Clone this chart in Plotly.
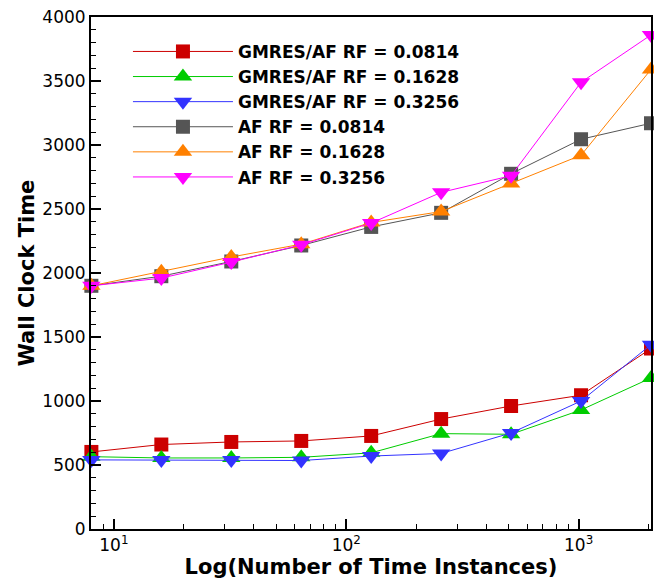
import plotly.graph_objects as go
import numpy as np

x_vals = [8, 16, 32, 64, 128, 256, 512, 1024, 2048]

gmres_0814 = [602, 660, 680, 688, 727, 859, 961, 1045, 1410]
gmres_1628 = [565, 555, 555, 560, 595, 745, 740, 930, 1180]
gmres_3256 = [540, 540, 540, 535, 570, 590, 750, 1000, 1440]
af_0814 = [1900, 1975, 2090, 2215, 2360, 2470, 2775, 3045, 3170]
af_1628 = [1900, 2010, 2125, 2225, 2395, 2480, 2700, 2920, 3590]
af_3256 = [1900, 1960, 2085, 2220, 2390, 2630, 2760, 3490, 3860]

series = [
    ("GMRES/AF RF = 0.0814", gmres_0814, "#cc0000", "square", 14),
    ("GMRES/AF RF = 0.1628", gmres_1628, "#00cc00", "triangle-up", 16),
    ("GMRES/AF RF = 0.3256", gmres_3256, "#3333ff", "triangle-down", 16),
    ("AF RF = 0.0814", af_0814, "#555555", "square", 14),
    ("AF RF = 0.1628", af_1628, "#ff8000", "triangle-up", 16),
    ("AF RF = 0.3256", af_3256, "#ff00ff", "triangle-down", 16),
]

xtick_vals = [10, 100, 1000]
xtick_text = ["10<sup>1</sup>", "10<sup>2</sup>", "10<sup>3</sup>"]
xminor_vals = [9, 20, 30, 40, 50, 60, 70, 80, 90,
               200, 300, 400, 500, 600, 700, 800, 900, 2000]
ytick_vals = [0, 500, 1000, 1500, 2000, 2500, 3000, 3500, 4000]

fig = go.Figure()
for name, ys, color, sym, sz in series:
    fig.add_trace(go.Scatter(
        x=x_vals, y=ys, name=name, mode="lines+markers",
        line=dict(color=color, width=1),
        marker=dict(symbol=sym, size=sz, color=color, line=dict(width=0)),
        cliponaxis=False,
    ))

font_family = "DejaVu Sans, Liberation Sans, Arial, sans-serif"

fig.update_layout(
    width=654, height=579,
    margin=dict(l=91, r=1, t=17, b=50),
    plot_bgcolor="white", paper_bgcolor="white",
    font=dict(family=font_family, color="black"),
    showlegend=True,
    legend=dict(
        x=0.066, y=0.967, xanchor="left", yanchor="top",
        bgcolor="rgba(0,0,0,0)", borderwidth=0,
        font=dict(size=17, family=font_family, color="black", weight="bold"),
        itemwidth=100, tracegroupgap=0,
    ),
)

fig.update_xaxes(
    type="log", range=[np.log10(7.97), np.log10(2048)],
    tickvals=xtick_vals, ticktext=xtick_text,
    ticks="inside", ticklen=10, tickwidth=1.5, tickcolor="black",
    minor=dict(ticks="inside", ticklen=5, tickwidth=1, tickcolor="black",
               tickvals=xminor_vals, showgrid=False),
    showline=True, linecolor="black", linewidth=2, mirror=True,
    showgrid=False, zeroline=False,
    tickfont=dict(size=17, family=font_family, color="black"),
    title=dict(text="Log(Number of Time Instances)", standoff=6,
               font=dict(size=21, family=font_family, color="black", weight="bold")),
)
fig.update_yaxes(
    range=[0, 4000], tickvals=ytick_vals,
    ticks="inside", ticklen=10, tickwidth=1.5, tickcolor="black",
    minor=dict(ticks="inside", ticklen=5, tickwidth=1, tickcolor="black", dtick=100, showgrid=False),
    showline=True, linecolor="black", linewidth=2, mirror=True,
    showgrid=False, zeroline=False,
    tickfont=dict(size=17, family=font_family, color="black"),
    title=dict(text="Wall Clock Time", standoff=2,
               font=dict(size=21, family=font_family, color="black", weight="bold")),
)

fig.write_html("out.html")
